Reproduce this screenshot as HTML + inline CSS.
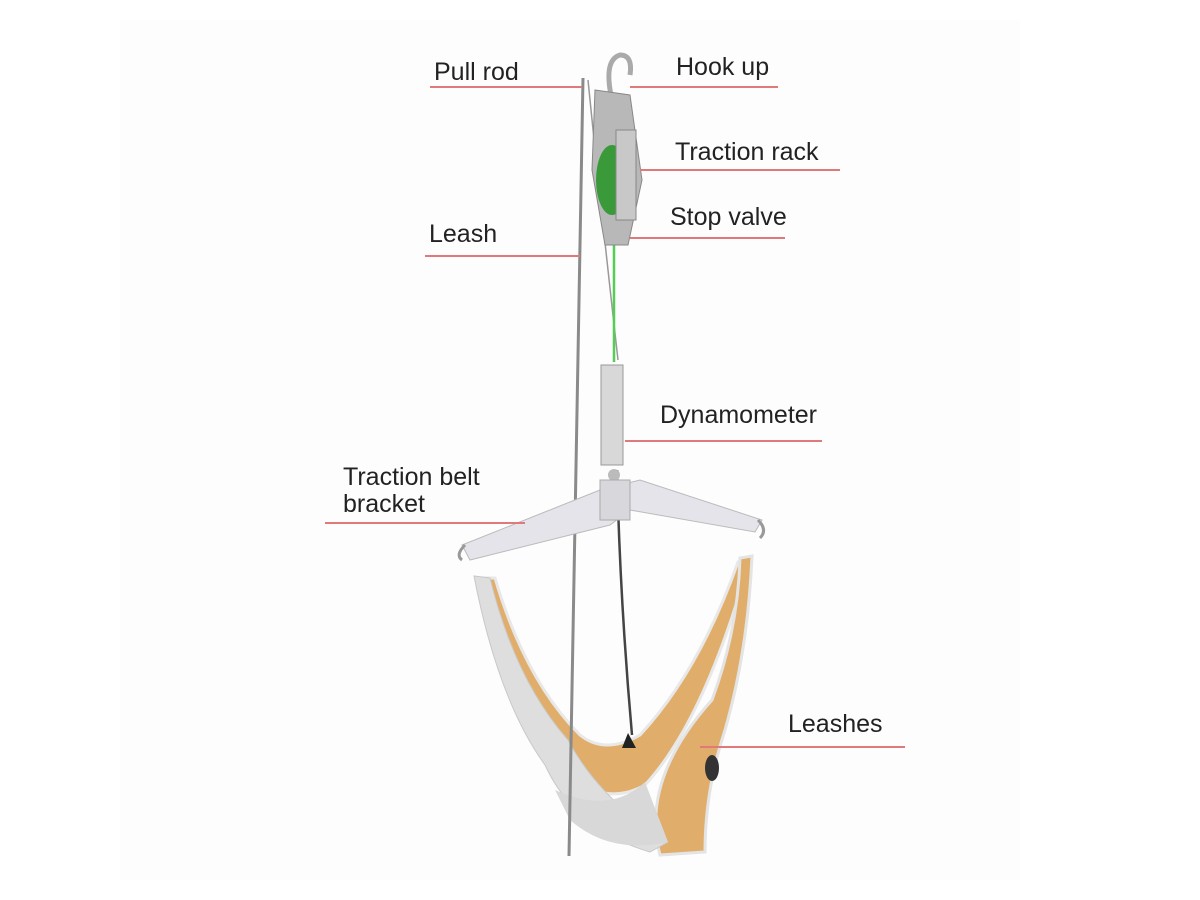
<!DOCTYPE html>
<html><head><meta charset="utf-8"><style>
body{margin:0;background:#fff;width:1200px;height:900px;overflow:hidden;position:relative;font-family:"Liberation Sans",sans-serif}
.t{position:absolute;font-size:25px;color:#222;line-height:27px}
.l{position:absolute;height:1.5px;background:#e07a7a}
svg{position:absolute;left:0;top:0}
</style></head><body>
<svg width="1200" height="900">
<rect x="120" y="20" width="900" height="860" fill="#fdfdfd"/>
<!-- sling fabric -->
<path d="M476 578 Q505 700 575 780 Q610 805 645 785 Q705 720 750 558 L738 562 Q700 670 640 735 Q605 755 580 735 Q525 680 495 578 Z" fill="#e0ae6a" stroke="#e8e8e8" stroke-width="3"/>
<path d="M752 556 Q748 650 725 730 Q705 790 705 852 L660 855 Q640 780 712 700 Q738 630 740 558 Z" fill="#e0ae6a" stroke="#e4e4e4" stroke-width="3"/>
<path d="M474 576 Q498 700 545 765 Q575 830 650 852 L668 842 Q600 800 568 740 Q515 680 490 578 Z" fill="#dedede" stroke="#c8c8c8"/>
<path d="M555 790 Q610 815 645 782 L668 842 Q610 855 570 820 Z" fill="#d8d8d8"/>
<ellipse cx="712" cy="768" rx="7" ry="13" fill="#333"/>
<!-- ropes -->
<path d="M583 78 L569 856" stroke="#8a8a8a" stroke-width="3" fill="none"/>
<path d="M588 80 Q600 200 618 360" stroke="#999" stroke-width="1.5" fill="none"/>
<path d="M614 245 L614 362" stroke="#5c5" stroke-width="2.5" fill="none"/>
<path d="M617 470 Q620 600 632 735" stroke="#444" stroke-width="2.5" fill="none"/>
<!-- hook -->
<path d="M612 100 Q603 60 620 55 Q633 55 630 75" stroke="#aaa" stroke-width="5" fill="none"/>
<!-- rack -->
<path d="M595 90 L630 95 L642 180 L628 245 L605 245 L592 170 Z" fill="#b8b8b8" stroke="#888"/>
<ellipse cx="612" cy="180" rx="16" ry="35" fill="#3a9a3a"/>
<rect x="616" y="130" width="20" height="90" fill="#c8c8c8" stroke="#888"/>
<!-- dynamometer -->
<rect x="601" y="365" width="22" height="100" fill="#d8d8d8" stroke="#999"/>
<circle cx="614" cy="475" r="6" fill="#bbb"/>
<!-- bracket -->
<path d="M462 545 L600 490 L640 480 L762 520 L755 532 L630 510 L610 525 L470 560 Z" fill="#e4e4ea" stroke="#bbb"/>
<rect x="600" y="480" width="30" height="40" fill="#d8d8dc" stroke="#aaa"/>
<path d="M465 545 Q455 555 462 560" stroke="#999" stroke-width="3" fill="none"/>
<path d="M758 520 Q768 530 760 538" stroke="#999" stroke-width="3" fill="none"/>
<path d="M628 733 L622 748 L636 748 Z" fill="#222"/>
</svg>
<div class="t" style="left:434px;top:59px">Pull rod</div><div class="l" style="left:430px;top:86px;width:152px"></div>
<div class="t" style="left:676px;top:54px">Hook up</div><div class="l" style="left:630px;top:86px;width:148px"></div>
<div class="t" style="left:675px;top:139px">Traction rack</div><div class="l" style="left:640px;top:169px;width:200px"></div>
<div class="t" style="left:670px;top:204px">Stop valve</div><div class="l" style="left:630px;top:237px;width:155px"></div>
<div class="t" style="left:429px;top:221px">Leash</div><div class="l" style="left:425px;top:255px;width:155px"></div>
<div class="t" style="left:660px;top:402px">Dynamometer</div><div class="l" style="left:625px;top:440px;width:197px"></div>
<div class="t" style="left:343px;top:464px">Traction belt<br>bracket</div><div class="l" style="left:325px;top:522px;width:200px"></div>
<div class="t" style="left:788px;top:711px">Leashes</div><div class="l" style="left:700px;top:746px;width:205px"></div>
</body></html>
